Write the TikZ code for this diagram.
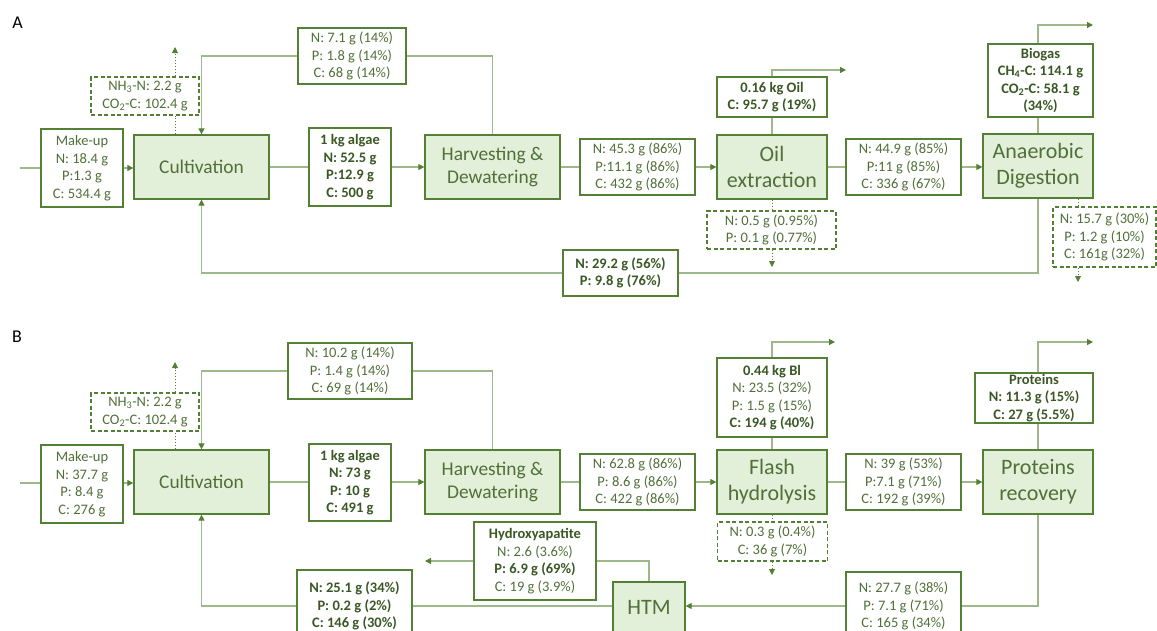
\documentclass[tikz,border=0pt]{standalone}
\usepackage{fontspec}
\setmainfont{Carlito}
\usetikzlibrary{arrows.meta}
\definecolor{bord}{RGB}{84,128,53}
\definecolor{procfill}{RGB}{226,239,217}
\definecolor{txt}{RGB}{80,112,56}
\definecolor{bld}{RGB}{58,88,36}
\definecolor{lncol}{RGB}{158,184,138}
\newcommand{\bt}[1]{\textbf{\color{bld}#1}}
\begin{document}
\begin{tikzpicture}[x=1pt,y=-1pt,
  proc/.style={draw=bord, fill=procfill, line width=1.3pt, text=txt, font=\fontsize{19.4}{23}\selectfont, align=center, inner sep=0pt},
  procb/.style={proc, font=\fontsize{22}{26}\selectfont},
  dbox/.style={draw=bord, fill=white, line width=1.2pt, text=txt, font=\fontsize{14.5}{17.5}\selectfont, align=center, inner sep=0pt},
  dashbox/.style={dbox, dash pattern=on 4pt off 2.5pt},
  ln/.style={draw=lncol, line width=1.2pt},
  arr/.style={ln, -{Triangle[length=6pt,width=6pt,color=bord]}},
  dotln/.style={draw=bord, line width=0.9pt, dash pattern=on 1.5pt off 1.5pt},
  dotarr/.style={dotln, -{Triangle[length=6pt,width=6pt,color=bord]}},
  panellbl/.style={font=\fontsize{18}{20}\selectfont, text=black, inner sep=0pt}
]
\useasboundingbox (0,0) rectangle (1157,630);

% ---------- Panel A ----------
\node[panellbl] (lblA) at (17.5,23) {A};
\node[dbox, minimum width=82, minimum height=78] (mA) at (82,168) {Make-up\\N: 18.4 g\\P:1.3 g\\C: 534.4 g};
\node[proc, minimum width=135, minimum height=64] (cA) at (201.5,167) {Cultivation};
\node[dashbox, minimum width=108, minimum height=38] (nhA) at (145,96) {NH\textsubscript{3}-N: 2.2 g\\CO\textsubscript{2}-C: 102.4 g};
\node[dbox, minimum width=108, minimum height=56] (rA) at (352,56) {N: 7.1 g (14\%)\\P: 1.8 g (14\%)\\C: 68 g (14\%)};
\node[dbox, minimum width=82, minimum height=78] (aA) at (350,167) {\bt{1 kg algae}\\\bt{N: 52.5 g}\\\bt{P:12.9 g}\\\bt{C: 500 g}};
\node[proc, minimum width=135, minimum height=64] (hA) at (492.5,167) {Harvesting \&\\Dewatering};
\node[dbox, minimum width=115, minimum height=56] (fA) at (637.5,167) {N: 45.3 g (86\%)\\P:11.1 g (86\%)\\C: 432 g (86\%)};
\node[procb, minimum width=110, minimum height=64] (oA) at (772,167) {Oil\\extraction};
\node[dbox, minimum width=110, minimum height=40] (olA) at (772,97) {\bt{0.16 kg Oil}\\\bt{C: 95.7 g (19\%)}};
\node[dashbox, minimum width=129, minimum height=38] (odA) at (771.5,230) {N: 0.5 g (0.95\%)\\P: 0.1 g (0.77\%)};
\node[dbox, minimum width=115, minimum height=56] (gA) at (903.5,167) {N: 44.9 g (85\%)\\P:11 g (85\%)\\C: 336 g (67\%)};
\node[procb, minimum width=110, minimum height=64] (adA) at (1038,166) {Anaerobic\\Digestion};
\node[dbox, minimum width=105, minimum height=73] (bgA) at (1040.5,80.5) {\bt{Biogas}\\\bt{CH\textsubscript{4}-C: 114.1 g}\\\bt{CO\textsubscript{2}-C: 58.1 g}\\\bt{(34\%)}};
\node[dashbox, minimum width=103, minimum height=60] (adwA) at (1104.5,237) {N: 15.7 g (30\%)\\P: 1.2 g (10\%)\\C: 161g (32\%)};
\node[dbox, minimum width=115, minimum height=46] (rbA) at (620.5,273) {\bt{N: 29.2 g (56\%)}\\\bt{P: 9.8 g (76\%)}};

\coordinate (inA) at (20,168);
\coordinate (nhAup) at (175,47);
\coordinate (oilout) at (846,70);
\coordinate (odAdown) at (772,267);
\coordinate (bgout) at (1093,25);
\coordinate (adwtop) at (1078,207);
\coordinate (adwdown) at (1078,282);

\draw[ln] (inA) -- (mA.west);
\draw[arr] (mA.east) -- (mA.east -| cA.west);
\draw[ln] (cA.east) -- (aA.west);
\draw[arr] (aA.east) -- (hA.west);
\draw[ln] (hA.east) -- (fA.west);
\draw[arr] (fA.east) -- (oA.west);
\draw[ln] (oA.east) -- (gA.west);
\draw[arr] (gA.east) -- (adA.west |- gA.east);
\draw[ln] (hA.north) |- (rA.east);
\draw[arr] (rA.west) -| (cA.north);
\draw[ln] (oA.north) -- (olA.south);
\draw[arr] (olA.north) |- (oilout);
\draw[dotln] (oA.south) -- (odA.north -| oA.south);
\draw[dotarr] (odA.south -| oA.south) -- (odAdown);
\draw[ln] (adA.north) -- (adA.north |- bgA.south);
\draw[arr] (adA.north |- bgA.north) |- (bgout);
\draw[dotln] (adA.south -| adwtop) -- (adwtop);
\draw[dotarr] (adwA.south -| adwtop) -- (adwdown);
\draw[dotln] (cA.north -| nhAup) -- (nhA.south -| nhAup);
\draw[dotarr] (nhA.north -| nhAup) -- (nhAup);
\draw[ln] (adA.south) |- (rbA.east);
\draw[arr] (rbA.west) -| (cA.south);

% ---------- Panel B ----------
\node[panellbl] (lblB) at (17,336.5) {B};
\node[dbox, minimum width=82, minimum height=78] (mB) at (82,484) {Make-up\\N: 37.7 g\\P: 8.4 g\\C: 276 g};
\node[proc, minimum width=135, minimum height=64] (cB) at (201.5,482) {Cultivation};
\node[dashbox, minimum width=108, minimum height=38] (nhB) at (145,412) {NH\textsubscript{3}-N: 2.2 g\\CO\textsubscript{2}-C: 102.4 g};
\node[dbox, minimum width=124, minimum height=56] (rB) at (350,371) {N: 10.2 g (14\%)\\P: 1.4 g (14\%)\\C: 69 g (14\%)};
\node[dbox, minimum width=82, minimum height=77] (aB) at (350,482.5) {\bt{1 kg algae}\\\bt{N: 73 g}\\\bt{P: 10 g}\\\bt{C: 491 g}};
\node[proc, minimum width=135, minimum height=64] (hB) at (492.5,482) {Harvesting \&\\Dewatering};
\node[dbox, minimum width=115, minimum height=56] (fB) at (637.5,482) {N: 62.8 g (86\%)\\P: 8.6 g (86\%)\\C: 422 g (86\%)};
\node[procb, minimum width=110, minimum height=64] (flB) at (772,482) {Flash\\hydrolysis};
\node[dbox, minimum width=110, minimum height=79] (biB) at (772,397.5) {\bt{0.44 kg Bl}\\N: 23.5 (32\%)\\P: 1.5 g (15\%)\\\bt{C: 194 g (40\%)}};
\node[dashbox, minimum width=110, minimum height=39] (fdB) at (772.5,541.5) {N: 0.3 g (0.4\%)\\C: 36 g (7\%)};
\node[dbox, minimum width=115, minimum height=56] (gB) at (903.5,482) {N: 39 g (53\%)\\P:7.1 g (71\%)\\C: 192 g (39\%)};
\node[procb, minimum width=110, minimum height=64] (prB) at (1038,482) {Proteins\\recovery};
\node[dbox, minimum width=118, minimum height=50] (ptB) at (1034,398) {\bt{Proteins}\\\bt{N: 11.3 g (15\%)}\\\bt{C: 27 g (5.5\%)}};
\node[dbox, minimum width=115, minimum height=68] (lowB) at (903.5,606) {N: 27.7 g (38\%)\\P: 7.1 g (71\%)\\C: 165 g (34\%)};
\node[procb, minimum width=72, minimum height=50] (htmB) at (649,607) {HTM};
\node[dbox, minimum width=122, minimum height=78] (hxB) at (535,561) {\bt{Hydroxyapatite}\\N: 2.6 (3.6\%)\\\bt{P: 6.9 g (69\%)}\\C: 19 g (3.9\%)};
\node[dbox, minimum width=115, minimum height=72] (lcB) at (354.5,606) {\bt{N: 25.1 g (34\%)}\\\bt{P: 0.2 g (2\%)}\\\bt{C: 146 g (30\%)}};

\coordinate (inB) at (20,483);
\coordinate (nhBup) at (175,362);
\coordinate (biout) at (835,342);
\coordinate (fdBdown) at (772,575);
\coordinate (ptout) at (1093,342);
\coordinate (hxout) at (425,561);

\draw[ln] (inB) -- (mB.west |- inB);
\draw[arr] (mB.east |- inB) -- (cB.west |- inB);
\draw[ln] (cB.east) -- (aB.west |- cB.east);
\draw[arr] (aB.east |- cB.east) -- (hB.west);
\draw[ln] (hB.east) -- (fB.west);
\draw[arr] (fB.east) -- (flB.west);
\draw[ln] (flB.east) -- (gB.west);
\draw[arr] (gB.east) -- (prB.west);
\draw[ln] (hB.north) |- (rB.east);
\draw[arr] (rB.west) -| (cB.north);
\draw[ln] (flB.north) -- (biB.south);
\draw[arr] (biB.north) |- (biout);
\draw[dotln] (flB.south) -- (fdB.north -| flB.south);
\draw[dotarr] (fdB.south -| flB.south) -- (fdBdown);
\draw[ln] (prB.north) -- (prB.north |- ptB.south);
\draw[arr] (prB.north |- ptB.north) |- (ptout);
\draw[dotln] (cB.north -| nhBup) -- (nhB.south -| nhBup);
\draw[dotarr] (nhB.north -| nhBup) -- (nhBup);
\draw[ln] (prB.south) |- (lowB.east);
\draw[arr] (lowB.west) -- (htmB.east |- lowB.west);
\draw[ln] (htmB.north) |- (hxB.east);
\draw[arr] (hxB.west) -- (hxout);
\draw[ln] (htmB.west |- lcB.east) -- (lcB.east);
\draw[arr] (lcB.west) -| (cB.south);
\end{tikzpicture}
\end{document}
